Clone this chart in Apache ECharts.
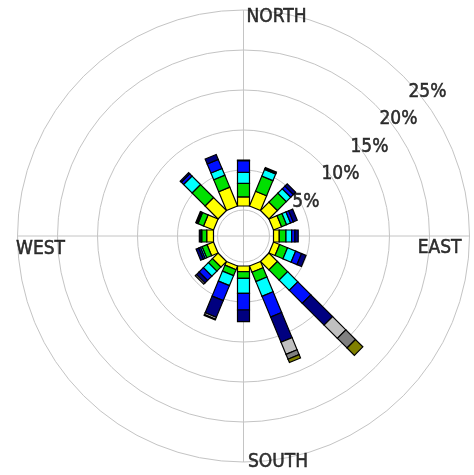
<!DOCTYPE html>
<html>
<head>
<meta charset="utf-8">
<title>Wind rose</title>
<script src="https://cdn.jsdelivr.net/npm/echarts@6/dist/echarts.min.js"></script>
<style>
  html, body { margin: 0; padding: 0; background: #ffffff; }
  #chart { width: 474px; height: 475px; }
</style>
</head>
<body>
<div id="chart"></div>
<script>
// Sixteen compass sectors, clockwise from north
const directions = ['N', 'NNE', 'NE', 'ENE', 'E', 'ESE', 'SE', 'SSE',
                    'S', 'SSW', 'SW', 'WSW', 'W', 'WNW', 'NW', 'NNW'];

// Frequency (%) of each wind-speed band per sector, lightest band first
const band1 = [1.15, 2.00, 1.50, 1.10, 0.72, 0.83, 1.50, 0.85, 0.71, 0.50, 1.00, 0.88, 0.85, 1.35, 2.30, 2.55];
const band2 = [1.68, 2.05, 1.58, 0.67, 0.84, 1.07, 1.80, 1.26, 0.83, 0.81, 0.71, 0.67, 0.62, 0.75, 2.30, 1.63];
const band3 = [1.38, 0.90, 0.77, 0.54, 0.71, 1.10, 1.80, 2.00, 1.87, 1.35, 0.89, 0.22, 0.00, 0.00, 1.50, 0.90];
const band4 = [1.45, 0.10, 0.48, 0.37, 0.41, 0.80, 2.30, 2.80, 2.09, 2.03, 0.76, 0.23, 0.10, 0.15, 0.40, 1.22];
const band5 = [0.08, 0.15, 0.40, 0.53, 0.41, 0.60, 3.85, 3.40, 1.46, 2.26, 0.47, 0.36, 0.20, 0.15, 0.20, 0.67];
const band6 = [0, 0, 0, 0, 0, 0, 2.35, 1.65, 0, 0.25, 0.20, 0, 0, 0, 0, 0];
const band7 = [0, 0, 0, 0, 0, 0, 1.70, 0.65, 0, 0.10, 0, 0, 0, 0, 0, 0];
const band8 = [0, 0, 0, 0, 0, 0, 1.30, 0.45, 0, 0, 0, 0, 0, 0, 0, 0];

// Radius (%) of the calm ring the petals grow from
const calmRing = 0.5;

// Radial scale ticks and the compass words at the rim
const radiusTicks = [5, 10, 15, 20, 25];
const radiusMax = 25;
const compassNames = ['NORTH', 'EAST', 'SOUTH', 'WEST'];

const bands = [band1, band2, band3, band4, band5, band6, band7, band8];
const bandColors = ['#ffff00', '#00e000', '#00ffff', '#0010ff', '#000080', '#c0c0c0', '#808080', '#808000'];

const CENTER = [243.5, 236];
const BAR_WIDTH = 12;
const TEXT_FONT = "'Liberation Sans Narrow', 'Arial Narrow', 'DejaVu Sans Condensed', sans-serif";
const TEXT_COLOR = '#000000';
const GRID_COLOR = '#c4c4c4';

const sectorStep = 360 / directions.length;
const roseData = directions.map((d, i) => [i * sectorStep].concat(bands.map(b => b[i])));

// Each petal is a straight stack of constant-width blocks along its bearing
function renderPetal(params, api) {
  const bearing = api.value(0);
  const half = BAR_WIDTH / 2;
  const children = [];
  let from = calmRing;
  for (let k = 0; k < bands.length; k++) {
    const len = api.value(k + 1);
    if (!(len > 0)) continue;
    const to = from + len;
    const p0 = api.coord([from, bearing]);
    const p1 = api.coord([to, bearing]);
    const dx = p1[0] - p0[0], dy = p1[1] - p0[1];
    const L = Math.hypot(dx, dy) || 1;
    const nx = -dy / L * half, ny = dx / L * half;
    children.push({
      type: 'polygon',
      shape: { points: [
        [p0[0] + nx, p0[1] + ny], [p1[0] + nx, p1[1] + ny],
        [p1[0] - nx, p1[1] - ny], [p0[0] - nx, p0[1] - ny]
      ] },
      style: { fill: bandColors[k], stroke: '#000000', lineWidth: 1.2 }
    });
    from = to;
  }
  return { type: 'group', children };
}

// Placement of each compass word relative to where its axis meets the rim
const compassLabelStyle = {
  NORTH: { align: 'left',  offset: [3, 7] },
  EAST:  { align: 'right', offset: [-8, 12] },
  SOUTH: { align: 'left',  offset: [4.5, 0] },
  WEST:  { align: 'left',  offset: [-1.5, 13.5] }
};
const compassData = compassNames.map((name, i) => ({
  name: name,
  value: [radiusMax, i * 90],
  label: compassLabelStyle[name]
}));

const TICK_LABEL_BEARING = 46.5;
const tickLabelData = radiusTicks.map(v => [v, TICK_LABEL_BEARING]);

const textStyle = {
  fontFamily: TEXT_FONT,
  fontSize: 19,
  color: TEXT_COLOR,
  textBorderColor: TEXT_COLOR,
  textBorderWidth: 0.5
};

const hiddenAxis = {
  axisLine: { show: false }, axisTick: { show: false }, axisLabel: { show: false }
};

const option = {
  backgroundColor: '#ffffff',
  animation: false,
  polar: [
    { center: CENTER, radius: [26, 226] },
    { center: CENTER, radius: [0, 26] }
  ],
  angleAxis: [
    Object.assign({
      polarIndex: 0, type: 'value', min: 0, max: 360, interval: 90,
      startAngle: 90, clockwise: true,
      splitLine: { show: true, lineStyle: { color: GRID_COLOR, width: 1 } }
    }, hiddenAxis),
    Object.assign({
      polarIndex: 1, type: 'value', min: 0, max: 360, interval: 90,
      startAngle: 90, clockwise: true,
      splitLine: { show: true, lineStyle: { color: GRID_COLOR, width: 1 } }
    }, hiddenAxis)
  ],
  radiusAxis: [
    Object.assign({
      polarIndex: 0, type: 'value', min: 0, max: radiusMax, interval: 5,
      splitLine: { show: true, showMinLine: false, lineStyle: { color: GRID_COLOR, width: 1 } }
    }, hiddenAxis),
    Object.assign({
      polarIndex: 1, type: 'value', min: 0, max: 1,
      splitLine: { show: false }
    }, hiddenAxis)
  ],
  series: [
    {
      type: 'custom',
      coordinateSystem: 'polar',
      polarIndex: 0,
      encode: { angle: 0, radius: 1 },
      renderItem: renderPetal,
      data: roseData,
      silent: true,
      z: 3
    },
    {
      type: 'scatter',
      coordinateSystem: 'polar',
      polarIndex: 0,
      symbolSize: 0,
      silent: true,
      data: tickLabelData,
      label: Object.assign({
        show: true,
        position: [0, 0],
        align: 'left',
        verticalAlign: 'top',
        offset: [1, 2],
        formatter: p => p.value[0] + '%'
      }, textStyle),
      z: 4
    },
    {
      type: 'scatter',
      coordinateSystem: 'polar',
      polarIndex: 0,
      symbolSize: 0,
      silent: true,
      data: compassData,
      label: Object.assign({
        show: true,
        position: [0, 0],
        verticalAlign: 'middle',
        formatter: p => p.name
      }, textStyle),
      z: 4
    }
  ]
};

const chart = echarts.init(document.getElementById('chart'), null, { renderer: 'canvas' });
chart.setOption(option);
</script>
</body>
</html>
